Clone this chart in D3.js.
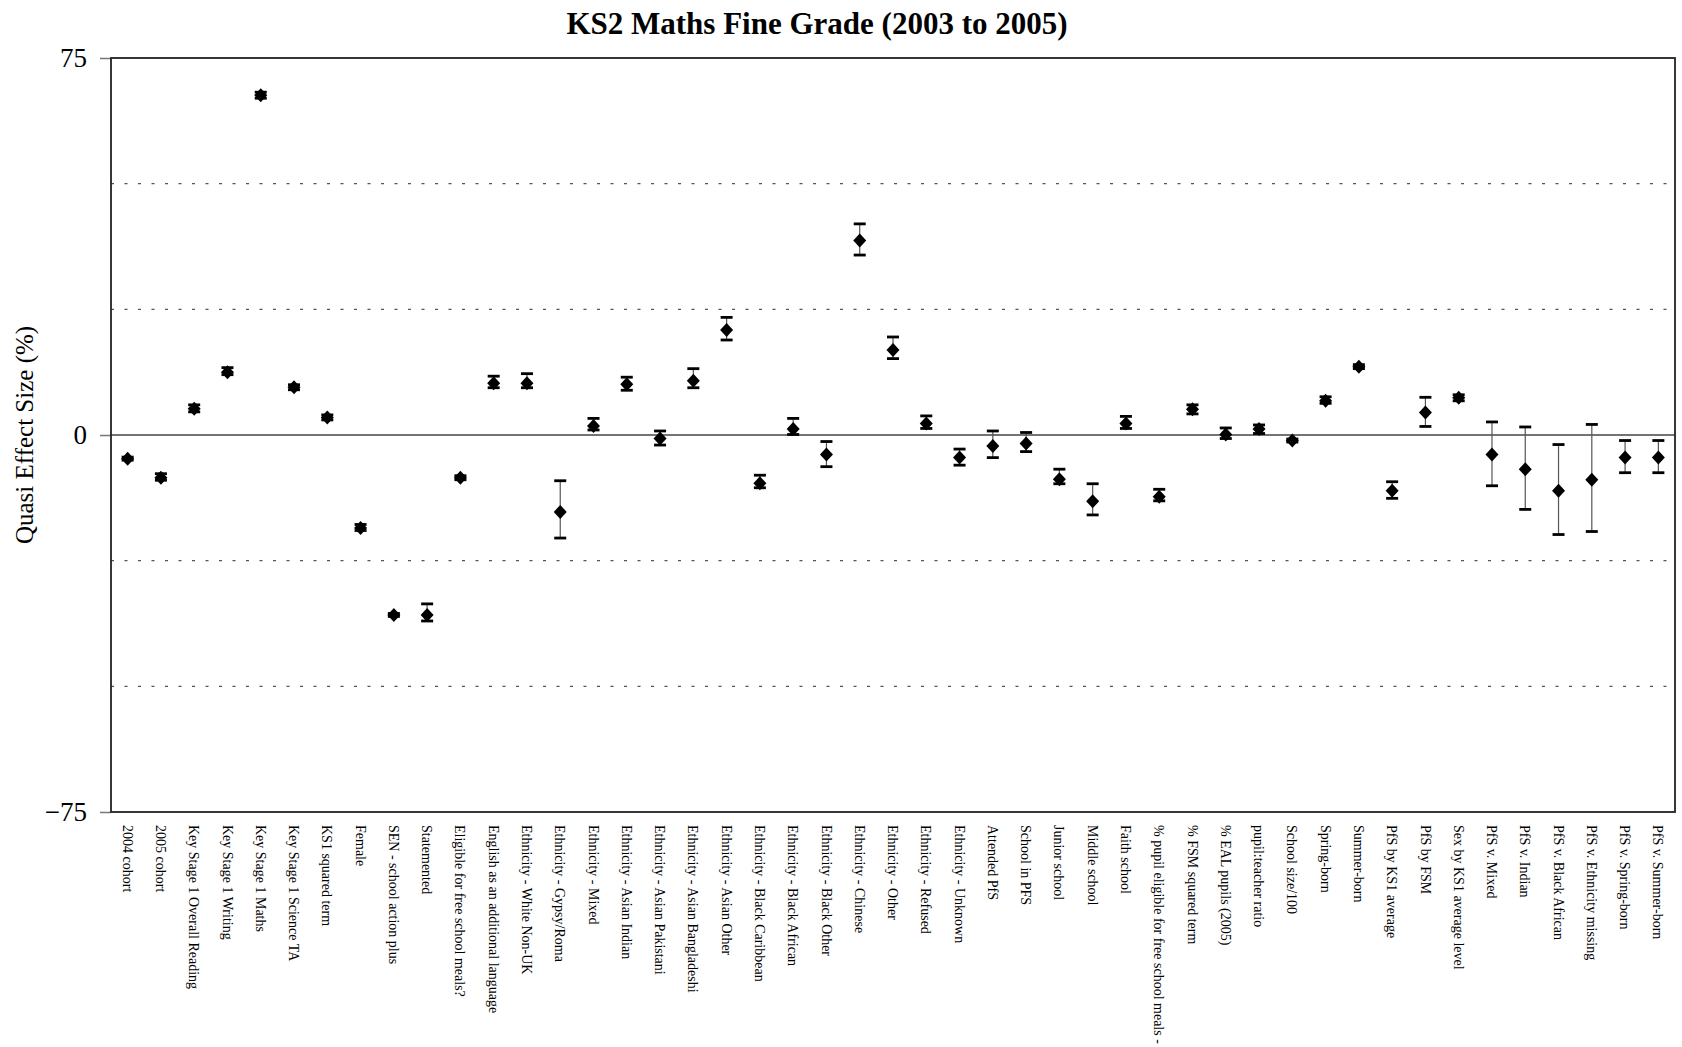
<!DOCTYPE html>
<html>
<head>
<meta charset="utf-8">
<script src="https://cdn.jsdelivr.net/npm/d3@7"></script>
<style>
  html, body { margin: 0; padding: 0; background: #fff; }
  svg { display: block; font-family: "Liberation Serif", "Times New Roman", serif; }
</style>
</head>
<body>
<svg id="chart" width="1682" height="1047"></svg>
<script>
const categories = [
  "2004 cohort", "2005 cohort", "Key Stage 1 Overall Reading", "Key Stage 1 Writing",
  "Key Stage 1 Maths", "Key Stage 1 Science TA", "KS1 squared term", "Female",
  "SEN - school action plus", "Statemented", "Eligible for free school meals?",
  "English as an additional language", "Ethnicity - White Non-UK", "Ethnicity - Gypsy/Roma",
  "Ethnicity - Mixed", "Ethnicity - Asian Indian", "Ethnicity - Asian Pakistani",
  "Ethnicity - Asian Bangladeshi", "Ethnicity - Asian Other", "Ethnicity - Black Caribbean",
  "Ethnicity - Black African", "Ethnicity - Black Other", "Ethnicity - Chinese",
  "Ethnicity - Other", "Ethnicity - Refused", "Ethnicity - Unknown", "Attended PfS",
  "School in PFS", "Junior school", "Middle school", "Faith school",
  "% pupil eligible for free school meals -", "% FSM squared term", "% EAL pupils (2005)",
  "pupil:teacher ratio", "School size/100", "Spring-born", "Summer-born",
  "PfS by KS1 average", "PfS by FSM", "Sex by KS1 average level", "PfS v. Mixed",
  "PfS v. Indian", "PfS v. Black African", "PfS v. Ethnicity missing",
  "PfS v. Spring-born", "PfS v. Summer-born"
];

const effect = [
  -4.7, -8.5, 5.2, 12.5, 67.6, 9.5, 3.5, -18.5, -35.8, -35.8, -8.5,
  10.3, 10.3, -15.3, 1.8, 10.1, -0.7, 10.8, 20.9, -9.6, 1.2, -3.9,
  38.7, 16.9, 2.3, -4.5, -2.2, -1.7, -8.8, -13.2, 2.3, -12.3, 5.1,
  0.1, 1.2, -1.1, 6.8, 13.6, -11.1, 4.5, 7.4, -3.9, -6.8, -11.1,
  -8.9, -4.5, -4.5
];

const upper = [
  -4.4, -7.7, 6.0, 13.4, 68.2, 10.0, 4.0, -17.8, -35.5, -33.6, -8.1,
  11.7, 12.2, -9.1, 3.3, 11.5, 0.8, 13.2, 23.4, -8.0, 3.3, -1.3,
  42.0, 19.5, 3.8, -2.8, 0.8, 0.5, -6.8, -9.7, 3.7, -10.8, 6.0,
  1.4, 2.0, -0.8, 7.6, 14.0, -9.3, 7.5, 8.0, 2.6, 1.6, -1.9,
  2.1, -1.1, -1.1
];

const lower = [
  -5.0, -9.0, 4.6, 12.0, 67.0, 9.0, 3.0, -19.0, -36.1, -37.0, -8.9,
  9.4, 9.4, -20.5, 1.0, 8.9, -2.0, 9.4, 18.9, -10.5, 0.1, -6.3,
  35.8, 15.2, 1.3, -6.0, -4.5, -3.3, -9.7, -15.9, 1.3, -13.1, 4.2,
  -0.7, 0.3, -1.4, 6.3, 13.2, -12.6, 1.7, 6.8, -10.1, -14.8, -19.8,
  -19.2, -7.5, -7.5
];

const yTickValues = [-75, 0, 75];
const gridValues = [-50, -25, 25, 50];

const chartTitle = "KS2 Maths Fine Grade (2003 to 2005)";
const yTitle = "Quasi Effect Size (%)";

(function () {
const data = categories.map((c, i) => ({ cat: c, v: effect[i], hi: upper[i], lo: lower[i] }));

const svg = d3.select("#chart");
const pLeft = 111, pRight = 1675, pTop = 58, pBottom = 812;

const x = d3.scaleBand().domain(categories).range([pLeft, pRight]).padding(0);
const y = d3.scaleLinear().domain([-75, 75]).range([pBottom, pTop]);

// title
svg.append("text")
  .attr("x", 817).attr("y", 34)
  .attr("text-anchor", "middle")
  .attr("font-weight", "bold")
  .attr("font-size", 31)
  .text(chartTitle);

// y title
svg.append("text")
  .attr("transform", `translate(33,${(pTop + pBottom) / 2}) rotate(-90)`)
  .attr("text-anchor", "middle")
  .attr("font-size", 25)
  .text(yTitle);

// dotted gridlines
svg.append("g").selectAll("line").data(gridValues).join("line")
  .attr("x1", pLeft).attr("x2", pRight)
  .attr("y1", d => y(d)).attr("y2", d => y(d))
  .attr("stroke", "#555").attr("stroke-width", 1.2)
  .attr("stroke-dasharray", "3,10.5");

// zero line
svg.append("line")
  .attr("x1", pLeft).attr("x2", pRight)
  .attr("y1", y(0)).attr("y2", y(0))
  .attr("stroke", "#444").attr("stroke-width", 1.6);

// y axis
const yAxis = svg.append("g")
  .attr("transform", `translate(${pLeft},0)`)
  .call(d3.axisLeft(y).tickValues(yTickValues).tickSize(11).tickPadding(13).tickFormat(d3.format("d")));
yAxis.select(".domain").remove();
yAxis.selectAll(".tick line").attr("stroke", "#777").attr("stroke-width", 1.5);
yAxis.selectAll(".tick text").attr("font-size", 27).attr("font-family", "Liberation Serif").attr("fill", "#000");

// x axis labels
const xAxis = svg.append("g")
  .attr("transform", `translate(0,${pBottom})`)
  .call(d3.axisBottom(x).tickSize(0).tickPadding(0));
xAxis.select(".domain").remove();
xAxis.selectAll(".tick text")
  .attr("font-size", 14)
  .attr("font-family", "Liberation Serif")
  .attr("fill", "#000")
  .attr("text-anchor", "start")
  .attr("dy", "0.35em")
  .attr("y", 0)
  .attr("transform", "translate(0,13) rotate(90)");

// plot frame
svg.append("rect")
  .attr("x", pLeft).attr("y", pTop)
  .attr("width", pRight - pLeft).attr("height", pBottom - pTop)
  .attr("fill", "none").attr("stroke", "#222").attr("stroke-width", 1.8);

const cx = d => x(d.cat) + x.bandwidth() / 2;

// error bars
const eb = svg.append("g");
eb.selectAll("line.stem").data(data).join("line")
  .attr("class", "stem")
  .attr("x1", cx).attr("x2", cx)
  .attr("y1", d => y(d.hi)).attr("y2", d => y(d.lo))
  .attr("stroke", "#555").attr("stroke-width", 1.2);
const capW = 6;
eb.selectAll("line.capHi").data(data).join("line")
  .attr("class", "capHi")
  .attr("x1", d => cx(d) - capW).attr("x2", d => cx(d) + capW)
  .attr("y1", d => y(d.hi)).attr("y2", d => y(d.hi))
  .attr("stroke", "#000").attr("stroke-width", 2.8);
eb.selectAll("line.capLo").data(data).join("line")
  .attr("class", "capLo")
  .attr("x1", d => cx(d) - capW).attr("x2", d => cx(d) + capW)
  .attr("y1", d => y(d.lo)).attr("y2", d => y(d.lo))
  .attr("stroke", "#000").attr("stroke-width", 2.8);

// diamonds
const hw = 6.5, hh = 7;
svg.append("g").selectAll("path").data(data).join("path")
  .attr("d", d => {
    const px = cx(d), py = y(d.v);
    return `M${px},${py - hh}L${px + hw},${py}L${px},${py + hh}L${px - hw},${py}Z`;
  })
  .attr("fill", "#000");
})();
</script>
</body>
</html>
